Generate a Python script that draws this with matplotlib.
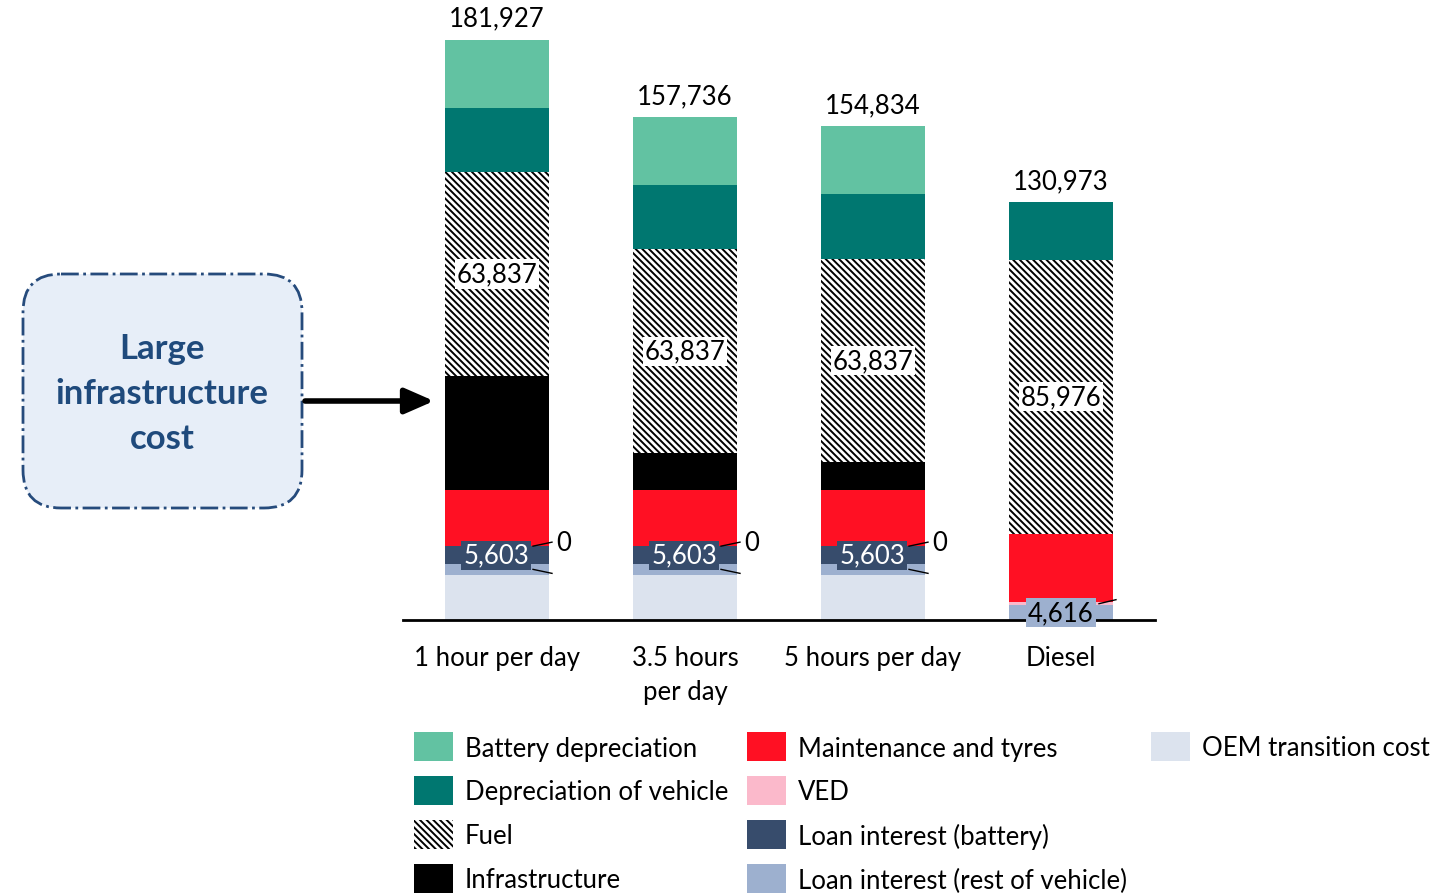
import matplotlib.pyplot as plt
from matplotlib.patches import FancyBboxPatch, Rectangle

plt.rcParams["font.family"] = ["Lato", "DejaVu Sans"]
plt.rcParams["hatch.linewidth"] = 1.4

W, H = 1450, 895

categories = ["1 hour per day", "3.5 hours\nper day", "5 hours per day", "Diesel"]

# cost components, stacked bottom to top
oem_transition = [14200, 14200, 14200, 0]
loan_rest = [3350, 3350, 3350, 4616]
loan_battery = [5603, 5603, 5603, 0]
ved = [0, 0, 0, 1000]
maintenance = [17750, 17750, 17750, 21400]
infrastructure = [35650, 11459, 8557, 0]
fuel = [63837, 63837, 63837, 85976]
depreciation_vehicle = [20250, 20250, 20250, 17981]
battery_depreciation = [21287, 21287, 21287, 0]

series = [
    ("OEM transition cost", oem_transition, "#DCE3EE", None),
    ("Loan interest (rest of vehicle)", loan_rest, "#9DB0CF", None),
    ("Loan interest (battery)", loan_battery, "#374C6C", None),
    ("VED", ved, "#FBB9CB", None),
    ("Maintenance and tyres", maintenance, "#FF1023", None),
    ("Infrastructure", infrastructure, "#000000", None),
    ("Fuel", fuel, "white", "\\\\\\\\\\"),
    ("Depreciation of vehicle", depreciation_vehicle, "#007770", None),
    ("Battery depreciation", battery_depreciation, "#62C2A2", None),
]

legend_order = [
    "Battery depreciation", "Depreciation of vehicle", "Fuel", "Infrastructure",
    "Maintenance and tyres", "VED", "Loan interest (battery)", "Loan interest (rest of vehicle)",
    "OEM transition cost",
]

fig = plt.figure(figsize=(W / 100, H / 100), dpi=100)

# main bar axes, placed in pixel terms
base_px, left_px, right_px = 621, 403, 1155
ax = fig.add_axes([left_px / W, (H - base_px) / H, (right_px - left_px) / W, base_px / H])
per_px = 313.5
ax.set_ylim(0, base_px * per_px)
ax.set_xlim(-0.5, 3.5)
unit_px = (right_px - left_px) / 4.0

x = list(range(len(categories)))
bottoms = [0.0] * len(categories)
seg = {}
for name, vals, color, hatch in series:
    ax.bar(x, vals, width=0.555, bottom=bottoms, color=color, edgecolor="black" if hatch else color,
           linewidth=0, hatch=hatch)
    seg[name] = [(b, v) for b, v in zip(bottoms, vals)]
    bottoms = [b + v for b, v in zip(bottoms, vals)]

fs = 18.5

for s in ["top", "left", "right"]:
    ax.spines[s].set_visible(False)
ax.spines["bottom"].set_linewidth(2)
ax.set_yticks([])
ax.set_xticks(x)
ax.set_xticklabels(categories, fontsize=fs, linespacing=1.45)
ax.tick_params(axis="x", length=0, pad=18)

dx = 1.0 / unit_px
dy = per_px

# totals on top
for i, tot in enumerate(bottoms):
    ax.text(i, tot + 9 * dy, f"{tot:,.0f}", ha="center", va="bottom", fontsize=fs)

# fuel labels
for i, (b, v) in enumerate(seg["Fuel"]):
    ax.text(i, b + v / 2, f"{v:,.0f}", ha="center", va="center", fontsize=fs,
            bbox=dict(facecolor="white", edgecolor="none", pad=1.5))

# loan interest (battery) and VED labels on the electric bars
for i in range(3):
    b, v = seg["Loan interest (battery)"][i]
    ax.text(i - 0.005, b + v / 2, f"{v:,.0f}", ha="center", va="center", fontsize=fs, color="white",
            bbox=dict(facecolor="#374C6C", edgecolor="none", pad=1.5))
    top = b + v
    ax.plot([i + 36 * dx, i + 55 * dx], [top, top + 4 * dy], color="black", lw=1)
    vb, vv = seg["VED"][i]
    ax.text(i + 59 * dx, top + 4 * dy, f"{vv:,.0f}", ha="left", va="center", fontsize=fs)
    rb, rv = seg["Loan interest (rest of vehicle)"][i]
    ax.plot([i + 36 * dx, i + 55 * dx], [rb + rv / 2, rb + rv / 2 - 4 * dy], color="black", lw=1)

# diesel loan interest label
b, v = seg["Loan interest (rest of vehicle)"][3]
ax.text(3, b + v / 2, f"{v:,.0f}", ha="center", va="center", fontsize=fs, color="black",
        bbox=dict(facecolor="#9DB0CF", edgecolor="none", pad=1.5), zorder=5)
vb, vv = seg["VED"][3]
ax.plot([3 + 38 * dx, 3 + 55 * dx], [vb + vv / 2, vb + vv / 2 + 4 * dy], color="black", lw=1)

# overlay in pixel coordinates for callout and legend
ov = fig.add_axes([0, 0, 1, 1])
ov.set_xlim(0, W)
ov.set_ylim(H, 0)
ov.axis("off")

box = FancyBboxPatch((23, 275), 279, 234, boxstyle="round,pad=0,rounding_size=38",
                     facecolor="#E7EEF8", edgecolor="#264B7C", linewidth=2, linestyle="-.")
ov.add_patch(box)
ov.text(162, 394, "Large\ninfrastructure\ncost", ha="center", va="center", fontsize=25,
        fontweight="bold", color="#1F4A7C", linespacing=1.5)
ov.annotate("", xy=(434, 402), xytext=(305, 402),
            arrowprops=dict(arrowstyle="-|>,head_length=0.8,head_width=0.35", lw=4, color="black",
                            shrinkA=0, shrinkB=0, mutation_scale=22))

styles = {name: (color, hatch) for name, _, color, hatch in series}
col_x = [414, 747, 1151]
row_y = [747, 791, 835, 879]
for k, name in enumerate(legend_order):
    cx = col_x[k // 4]
    cy = row_y[k % 4]
    color, hatch = styles[name]
    ov.add_patch(Rectangle((cx, cy - 14.5), 39, 29, facecolor=color,
                           edgecolor="black" if hatch else color, linewidth=0, hatch=hatch))
    ov.text(cx + 51, cy + 2, name, ha="left", va="center", fontsize=fs)

fig.savefig("out.png", dpi=100)
